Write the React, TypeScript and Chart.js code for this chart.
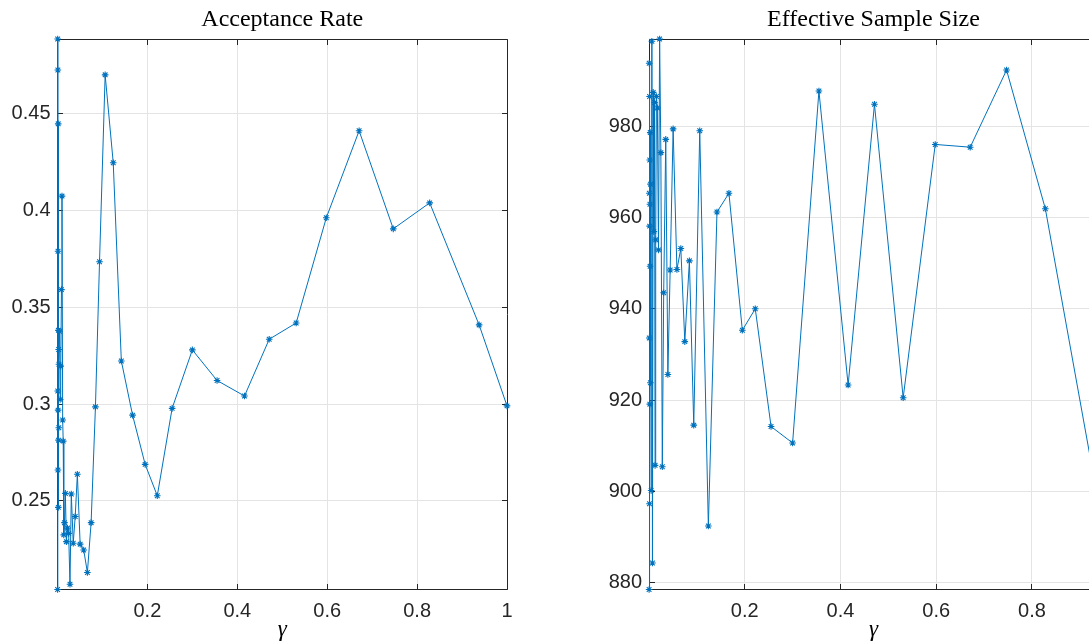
import React, { useEffect, useRef } from "react";
import { Chart, registerables } from "chart.js";

Chart.register(...registerables);

// ---------------- data ----------------
const gamma = [
  0.0002, 0.0004, 0.0006, 0.0008, 0.001, 0.0012, 0.0014, 0.0016, 0.0018, 0.002, 0.0023, 0.0026, 0.0029, 0.0032,
  0.0045, 0.006, 0.0072, 0.0088, 0.01, 0.0115, 0.0127, 0.014, 0.0155, 0.0175, 0.0198, 0.0222, 0.0248, 0.0278,
  0.0307, 0.035, 0.0394, 0.0442, 0.0504, 0.0583, 0.0665, 0.0748, 0.0844, 0.0935,
  0.106, 0.124, 0.142, 0.167, 0.195, 0.222, 0.255, 0.3, 0.355, 0.416, 0.471, 0.531, 0.598, 0.671, 0.747, 0.828,
  0.938, 1.0,
];

const acceptanceRate = [
  0.2043, 0.4885, 0.3068, 0.4725, 0.266, 0.3789, 0.2969, 0.4447, 0.2467, 0.3381, 0.2814, 0.3282, 0.2878, 0.3206,
  0.3376, 0.3024, 0.3196, 0.3591, 0.4074, 0.2918, 0.2809, 0.2325, 0.2388, 0.2539, 0.229, 0.236, 0.2333, 0.207,
  0.2536, 0.2282, 0.242, 0.2638, 0.2277, 0.2247, 0.2131, 0.2388, 0.2986, 0.3735,
  0.47, 0.4246, 0.3223, 0.2943, 0.2689, 0.2527, 0.2978, 0.328, 0.3122, 0.3042, 0.3335, 0.3419, 0.3962, 0.4411,
  0.3905, 0.4039, 0.3409, 0.2991,
];

const effectiveSampleSize = [
  878.5, 993.8, 933.6, 965.3, 897.3, 986.5, 958.1, 972.6, 919.1, 962.9, 949.3, 978.6, 923.8, 967.3,
  900.2, 998.6, 884.3, 987.4, 956.9, 985.2, 905.7, 955.1, 986.5, 984.0, 952.9, 999.1, 974.2, 905.4,
  943.5, 977.1, 925.6, 948.5, 979.4, 948.6, 953.2, 932.8, 950.5, 914.5,
  979.0, 892.4, 961.2, 965.3, 935.3, 940.0, 914.2, 910.6, 987.7, 923.3, 984.8, 920.5, 976.0, 975.4,
  992.3, 961.9, 898.0, null,
];

const accXTicks = [0.2, 0.4, 0.6, 0.8, 1];
const accXTickLabels = ["0.2", "0.4", "0.6", "0.8", "1"];
const accYTicks = [0.25, 0.3, 0.35, 0.4, 0.45];
const accYTickLabels = ["0.25", "0.3", "0.35", "0.4", "0.45"];

const essXTicks = [0.2, 0.4, 0.6, 0.8];
const essXTickLabels = ["0.2", "0.4", "0.6", "0.8"];
const essYTicks = [880, 900, 920, 940, 960, 980];
const essYTickLabels = ["880", "900", "920", "940", "960", "980"];

const accTitle = "Acceptance Rate";
const essTitle = "Effective Sample Size";
const xAxisLabel = "γ";

// ---------------- styles ----------------
const BLUE = "#0072BD";
const AXIS = "#262626";
const GRID = "#e4e4e4";
const TICK_FONT = { family: '"Liberation Sans", Arial, sans-serif', size: 20 };

const matlabAxes = {
  id: "matlabAxes",
  beforeDatasetsDraw(chart: any) {
    const { ctx, chartArea } = chart;
    const xs = chart.scales.x;
    const ys = chart.scales.y;
    const x0 = Math.floor(chartArea.left) + 0.5;
    const x1 = Math.floor(chartArea.right) + 0.5;
    const y0 = Math.floor(chartArea.top) + 0.5;
    const y1 = Math.floor(chartArea.bottom) + 0.5;
    const tl = 5.5;
    ctx.save();
    ctx.strokeStyle = AXIS;
    ctx.lineWidth = 1;
    ctx.beginPath();
    ctx.rect(x0, y0, x1 - x0, y1 - y0);
    for (const t of xs.ticks) {
      const px = Math.floor(xs.getPixelForValue(t.value)) + 0.5;
      ctx.moveTo(px, y1);
      ctx.lineTo(px, y1 - tl);
      ctx.moveTo(px, y0);
      ctx.lineTo(px, y0 + tl);
    }
    for (const t of ys.ticks) {
      const py = Math.floor(ys.getPixelForValue(t.value)) + 0.5;
      ctx.moveTo(x0, py);
      ctx.lineTo(x0 + tl, py);
      ctx.moveTo(x1, py);
      ctx.lineTo(x1 - tl, py);
    }
    ctx.stroke();
    ctx.restore();
  },
  afterDraw(chart: any, _args: any, opts: any) {
    const { ctx, chartArea } = chart;
    ctx.save();
    ctx.font = '24px "Liberation Serif", "Times New Roman", serif';
    ctx.fillStyle = "#000";
    ctx.textAlign = "center";
    ctx.textBaseline = "middle";
    ctx.fillText(opts.title, (chartArea.left + chartArea.right) / 2, opts.titleY);
    ctx.restore();
  },
};

type PanelSpec = {
  title: string;
  x: number[];
  y: (number | null)[];
  xMin: number;
  xMax: number;
  yMin: number;
  yMax: number;
  xTicks: number[];
  xTickLabels: string[];
  yTicks: number[];
  yTickLabels: string[];
  yWidth: number;
  padRight: number;
};

function makeConfig(p: PanelSpec): any {
  return {
    type: "line",
    data: {
      datasets: [
        {
          data: p.x.map((g, i) => ({ x: g, y: p.y[i] })),
          borderColor: BLUE,
          borderWidth: 1,
          pointStyle: "star",
          pointRadius: 3.3,
          pointBorderColor: BLUE,
          pointBackgroundColor: BLUE,
          pointBorderWidth: 1.1,
          tension: 0,
          clip: false,
          spanGaps: false,
          fill: false,
        },
      ],
    },
    options: {
      animation: false,
      responsive: false,
      events: [],
      layout: { padding: { top: 39, right: p.padRight, left: 0, bottom: 0 } },
      plugins: {
        legend: { display: false },
        tooltip: { enabled: false },
        title: { display: false },
        matlabAxes: { title: p.title, titleY: 20 },
      },
      scales: {
        x: {
          type: "linear",
          min: p.xMin,
          max: p.xMax,
          afterBuildTicks: (s: any) => {
            s.ticks = p.xTicks.map((v) => ({ value: v }));
          },
          afterFit: (s: any) => {
            s.height = 54.5;
            s.paddingLeft = 0;
            s.paddingRight = 0;
          },
          grid: { color: GRID, lineWidth: 1, drawTicks: false },
          border: { display: false },
          ticks: {
            autoSkip: false,
            maxRotation: 0,
            minRotation: 0,
            padding: 9.5,
            color: AXIS,
            font: TICK_FONT,
            callback: (_v: any, i: number) => p.xTickLabels[i],
          },
          title: {
            display: true,
            text: xAxisLabel,
            color: "#000",
            font: { family: '"Liberation Serif", serif', size: 23, style: "italic" },
            padding: { top: 0, bottom: 0 },
          },
        },
        y: {
          type: "linear",
          min: p.yMin,
          max: p.yMax,
          afterBuildTicks: (s: any) => {
            s.ticks = p.yTicks.map((v) => ({ value: v }));
          },
          afterFit: (s: any) => {
            s.width = p.yWidth;
            s.paddingTop = 0;
            s.paddingBottom = 0;
          },
          grid: { color: GRID, lineWidth: 1, drawTicks: false },
          border: { display: false },
          ticks: {
            autoSkip: false,
            padding: 7,
            color: AXIS,
            font: TICK_FONT,
            callback: (_v: any, i: number) => p.yTickLabels[i],
          },
        },
      },
    },
    plugins: [matlabAxes],
  };
}

function Panel({ spec, left, width }: { spec: PanelSpec; left: number; width: number }) {
  const ref = useRef<HTMLCanvasElement | null>(null);
  useEffect(() => {
    if (!ref.current) return;
    const chart = new Chart(ref.current, makeConfig(spec));
    return () => chart.destroy();
  }, []);
  return (
    <canvas
      ref={ref}
      width={width}
      height={644}
      style={{ position: "absolute", left, top: 0, width, height: 644 }}
    />
  );
}

const accSpec: PanelSpec = {
  title: accTitle,
  x: gamma,
  y: acceptanceRate,
  xMin: 0,
  xMax: 1,
  yMin: 0.2043,
  yMax: 0.4885,
  xTicks: accXTicks,
  xTickLabels: accXTickLabels,
  yTicks: accYTicks,
  yTickLabels: accYTickLabels,
  yWidth: 57.5,
  padRight: 23,
};

const essSpec: PanelSpec = {
  title: essTitle,
  x: gamma,
  y: effectiveSampleSize,
  xMin: 0,
  xMax: 0.938,
  yMin: 878.5,
  yMax: 999.1,
  xTicks: essXTicks,
  xTickLabels: essXTickLabels,
  yTicks: essYTicks,
  yTickLabels: essYTickLabels,
  yWidth: 59,
  padRight: 12,
};

export default function App() {
  return (
    <div
      style={{
        position: "absolute",
        left: 0,
        top: 0,
        width: 1089,
        height: 644,
        overflow: "hidden",
        background: "#fff",
      }}
    >
      <Panel spec={accSpec} left={0} width={530} />
      <Panel spec={essSpec} left={590} width={520} />
    </div>
  );
}
